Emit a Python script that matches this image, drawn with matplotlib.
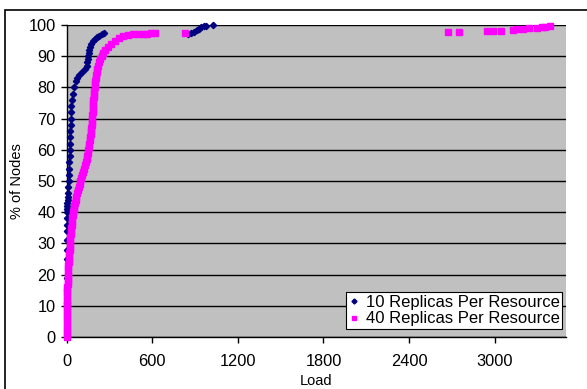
import matplotlib.pyplot as plt
from matplotlib.patches import Rectangle

plt.rcParams['font.family'] = ['Liberation Sans', 'DejaVu Sans']

# load (x) vs cumulative % of nodes (y)
load_10 = [0, 0, 0, 0, 0, 0, 0, 0, 1, 1, 2, 3, 4, 5, 6, 7, 9, 12, 16, 17,
           18, 19, 21, 23, 24, 25, 26, 27, 28, 30, 33, 37, 43, 51, 62, 74,
           88, 105, 128, 140, 145, 148, 151, 155, 159, 163, 172, 182, 196,
           210, 228, 245, 261, 850, 870, 895, 915, 930, 945, 960, 975, 1027]
pct_10 = [0, 11, 15, 19, 25, 28, 31, 34, 36, 38, 40, 41, 42, 43, 44, 45, 46,
          48, 50, 52, 54, 56, 58, 60, 62, 64, 66, 68, 70, 72, 74, 76, 78, 80,
          82, 83, 84, 85, 86, 87, 88, 89, 90, 91, 92, 93, 94, 95, 95.5, 96,
          96.5, 97, 97.3, 97.2, 97.4, 97.8, 98.3, 98.8, 99.3, 99.6, 99.8, 100]

load_40 = [0, 0, 0, 0, 0, 0, 0, 0, 0, 1, 1, 2, 2, 3, 3, 4, 5, 6, 7, 8, 9, 10,
           11, 12, 14, 15, 17, 18, 20, 21, 23, 25, 26, 28, 30, 32, 34, 37, 40,
           43, 46, 50, 54, 58, 63, 68, 74, 80, 86, 90, 95, 100, 106, 112, 120,
           128, 134, 139, 144, 148, 151, 155, 158, 161, 164, 167, 169, 172,
           174, 176, 178, 180, 182, 183, 185, 186, 187, 189, 191, 193, 195,
           197, 199, 202, 205, 210, 216, 222, 228, 236, 245, 257, 272, 290,
           312, 338, 365, 397, 430, 467, 500, 537, 563, 590, 619, 829,
           2675, 2750, 2945, 2990, 3047, 3130, 3160, 3200, 3243, 3300, 3330,
           3355, 3390]
pct_40 = [0, 1, 2, 3, 4, 5, 6, 7, 8, 9, 10, 11, 12, 13, 14, 15, 16, 17, 18,
          19, 20, 21, 22, 23, 24, 25, 26, 27, 28, 29, 30, 31, 32, 33, 34, 35,
          36, 37, 38, 39, 40, 41, 42, 43, 44, 45, 46, 47, 48, 49, 50, 51, 52,
          53, 54, 55, 56, 57, 58, 59, 60, 61, 62, 63, 64, 65, 66, 67, 68, 69,
          70, 71, 72, 73, 74, 75, 76, 77, 78, 79, 80, 81, 82, 83, 84, 85, 86,
          87, 88, 89, 90, 91, 92, 93, 94, 95, 95.8, 96.5, 96.8, 97, 97, 97.1,
          97.2, 97.3, 97.3, 97.4, 97.7, 97.7, 98.0, 98.1, 98.2, 98.5, 98.6,
          98.6, 98.9, 99.2, 99.3, 99.3, 99.8]

x_ticks = [0, 600, 1200, 1800, 2400, 3000]
y_ticks = list(range(0, 101, 10))

fig = plt.figure(figsize=(5.87, 3.89), dpi=100)
ax = fig.add_axes([0.1136, 0.1337, 0.8506, 0.802])
ax.set_facecolor('#c0c0c0')

# outer chart border
fig.patches.append(Rectangle((5 / 587, -0.1), 1.2, 1.1 - 10 / 389,
                             transform=fig.transFigure, fill=False,
                             edgecolor='black', linewidth=1.2))

ax.plot(load_10, pct_10, linestyle='none', marker='D', markersize=3.2,
        color='#000080', label='10 Replicas Per Resource', clip_on=False,
        zorder=3)
ax.plot(load_40, pct_40, linestyle='none', marker='s', markersize=4.2,
        color='#ff00ff', label='40 Replicas Per Resource', clip_on=False,
        zorder=4)

ax.set_xlim(0, 3500)
ax.set_ylim(0, 100)
ax.set_xticks(x_ticks)
ax.set_yticks(y_ticks)
ax.yaxis.grid(True, color='black', linewidth=1)
ax.set_axisbelow(True)

for side in ['top', 'right']:
    ax.spines[side].set_visible(False)
for side in ['left', 'bottom']:
    ax.spines[side].set_color('black')
    ax.spines[side].set_linewidth(1)

ax.tick_params(axis='both', labelsize=11.8, length=4, width=1, color='black')
ax.tick_params(axis='x', pad=8)
ax.tick_params(axis='y', pad=4)

ax.set_xlabel('Load', fontsize=10.5, labelpad=4)
ax.set_ylabel('% of Nodes', fontsize=10.5, labelpad=3)

leg = ax.legend(loc='lower right', bbox_to_anchor=(0.992, 0.026),
                borderaxespad=0, fancybox=False, framealpha=1,
                edgecolor='black', fontsize=12, handlelength=0.6,
                handletextpad=0.4, borderpad=0.15, labelspacing=0.1,
                markerscale=0.8)
leg.get_frame().set_linewidth(0.8)

fig.savefig('out.png', dpi=100)
